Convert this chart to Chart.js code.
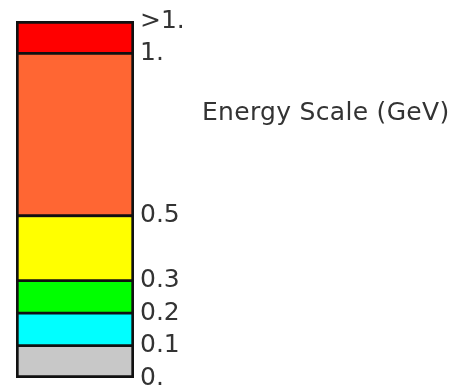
<!DOCTYPE html>
<html>
<head>
<meta charset="utf-8">
<script src="https://cdn.jsdelivr.net/npm/chart.js@4/dist/chart.umd.min.js"></script>
<style>
  html, body { margin: 0; padding: 0; background: #ffffff; }
  #wrap { position: relative; width: 452px; height: 387px; }
  #chart { position: absolute; left: 0; top: 0; }
  #scaleTitle {
    position: absolute; left: 202px; top: 99px;
    font-family: "DejaVu Sans", sans-serif; font-size: 25px; line-height: 25px;
    letter-spacing: 0.3px; color: #333333; white-space: nowrap;
  }
</style>
</head>
<body>
<div id="wrap">
  <canvas id="chart" width="452" height="387"></canvas>
  <div id="scaleTitle">Energy Scale (GeV)</div>
</div>
<script>
// ---- data ----
const categories = ['Energy Scale (GeV)'];
const segmentNames = ['0. – 0.1', '0.1 – 0.2', '0.2 – 0.3', '0.3 – 0.5', '0.5 – 1.', '>1.'];
const segmentValues = [0.1, 0.1, 0.1, 0.2, 0.5, 0.1];
const segmentColors = ['#c8c8c8', '#00ffff', '#00ff00', '#ffff00', '#ff6633', '#ff0000'];
const tickValues = [0, 0.1, 0.2, 0.3, 0.5, 1.0, 1.1];
const tickLabels = ['0.', '0.1', '0.2', '0.3', '0.5', '1.', '>1.'];

const last = segmentValues.length - 1;
const datasets = segmentValues.map((v, i) => ({
  label: segmentNames[i],
  data: [v],
  backgroundColor: segmentColors[i],
  borderColor: '#111111',
  borderWidth: {
    left: 3, right: 3,
    top: i === last ? 3 : 1.75,
    bottom: i === 0 ? 3 : 1.75
  },
  borderSkipped: false,
  categoryPercentage: 1.0,
  barPercentage: 1.0
}));

new Chart(document.getElementById('chart'), {
  type: 'bar',
  data: { labels: categories, datasets },
  options: {
    responsive: false,
    animation: false,
    events: [],
    layout: { padding: { left: 16, top: 21, bottom: 9, right: 0 } },
    plugins: { legend: { display: false }, tooltip: { enabled: false }, title: { display: false } },
    scales: {
      x: { display: false, stacked: true },
      y: {
        position: 'right',
        stacked: true,
        min: 0,
        max: 1.1,
        grid: { display: false, drawTicks: false },
        border: { display: false },
        afterBuildTicks: (scale) => { scale.ticks = tickValues.map(v => ({ value: v })); },
        afterFit: (scale) => { scale.width = 452 - 134; scale.paddingTop = 0; scale.paddingBottom = 0; },
        ticks: {
          autoSkip: false,
          padding: 6,
          color: '#333333',
          font: { family: 'DejaVu Sans', size: 25 },
          callback: (value, index) => tickLabels[index]
        }
      }
    }
  }
});
</script>
</body>
</html>
